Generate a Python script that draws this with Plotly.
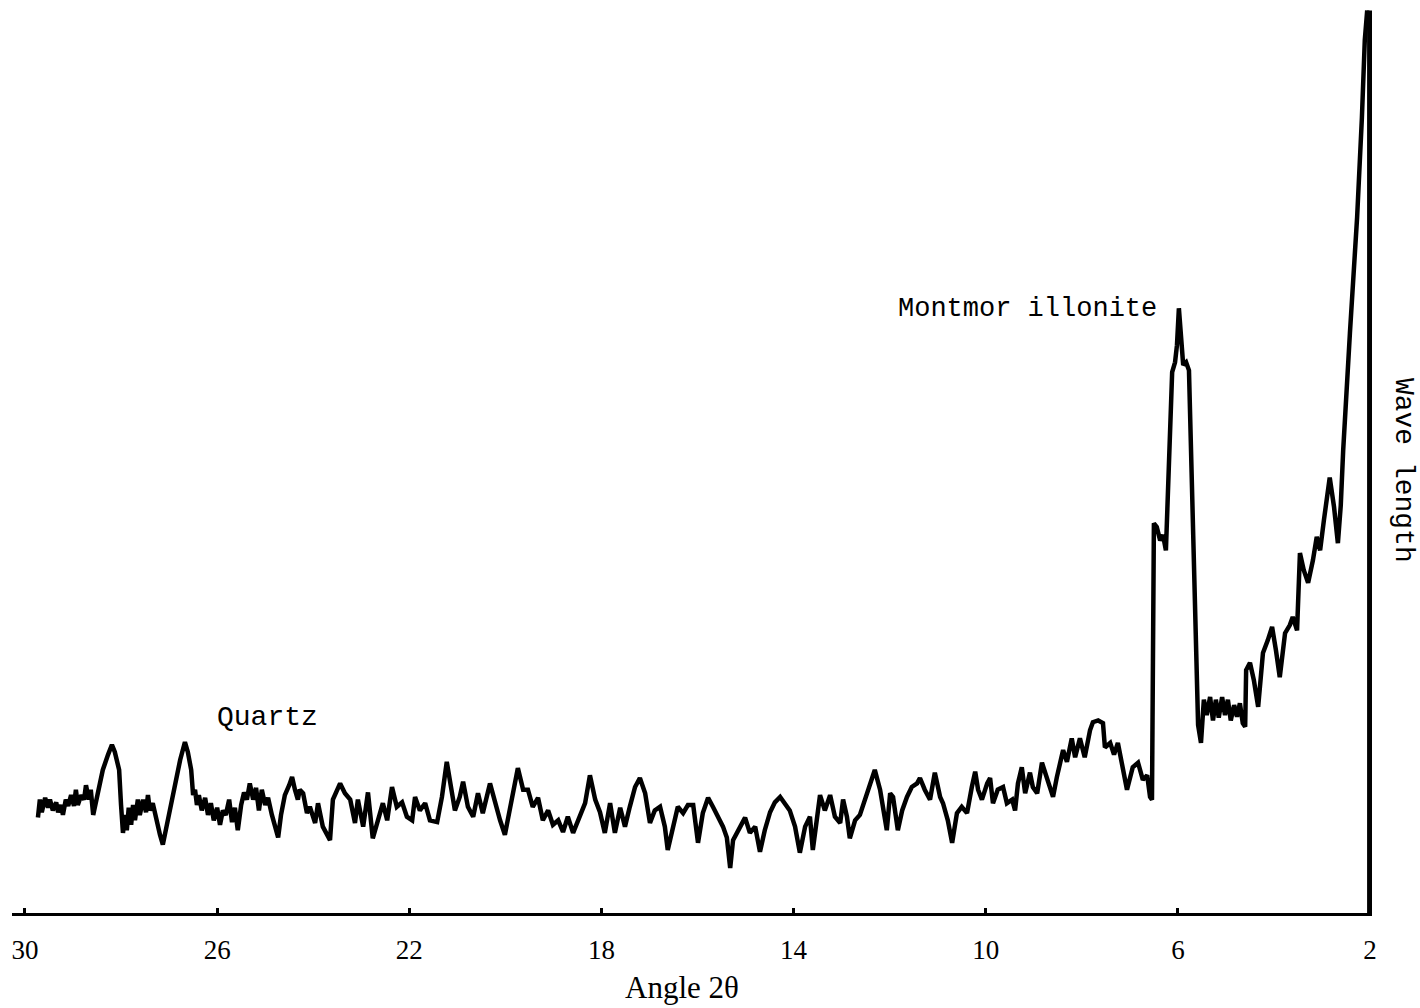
import plotly.graph_objects as go

# Angle 2-theta (degrees), left (30) to right (2)
two_theta = [
    29.73, 29.69, 29.65, 29.58, 29.52, 29.48, 29.42, 29.35, 29.31, 29.25, 29.21, 29.15, 29.10, 29.04,
    28.98, 28.94, 28.90, 28.83, 28.77, 28.73, 28.67, 28.63, 28.58, 28.48, 28.38, 28.27, 28.19, 28.13,
    28.09, 28.04, 28.00, 27.96, 27.92, 27.88, 27.84, 27.79, 27.75, 27.71, 27.65, 27.61, 27.54, 27.48,
    27.44, 27.40, 27.34, 27.25, 27.19, 27.13, 27.07, 26.98, 26.88, 26.77, 26.67, 26.61, 26.54, 26.50,
    26.46, 26.42, 26.38, 26.32, 26.25, 26.19, 26.13, 26.07, 26.00, 25.94, 25.88, 25.82, 25.75, 25.69,
    25.63, 25.57, 25.50, 25.44, 25.38, 25.32, 25.25, 25.19, 25.13, 25.07, 25.00, 24.94, 24.86, 24.78,
    24.73, 24.67, 24.59, 24.50, 24.44, 24.38, 24.32,
    24.28, 24.21, 24.13, 24.07, 23.96, 23.90, 23.80, 23.65, 23.59, 23.44, 23.34, 23.23, 23.13, 23.07,
    22.96, 22.86, 22.76, 22.65, 22.55, 22.46, 22.36, 22.26, 22.15, 22.05, 21.94, 21.88, 21.78, 21.67,
    21.57, 21.42, 21.32, 21.22, 21.11, 21.05, 20.95, 20.88, 20.78, 20.67, 20.57, 20.47, 20.32, 20.22,
    20.11, 20.01, 19.86, 19.74, 19.63, 19.53, 19.43, 19.32, 19.22, 19.11, 19.01, 18.90, 18.80, 18.70,
    18.59, 18.45, 18.34, 18.24, 18.13,
    18.03, 17.93, 17.82, 17.72, 17.61, 17.51, 17.41, 17.30, 17.20, 17.09, 16.99, 16.89, 16.78, 16.68,
    16.62, 16.51, 16.41, 16.30, 16.20, 16.09, 15.99, 15.89, 15.78, 15.68, 15.57, 15.47, 15.39, 15.32,
    15.26, 15.16, 15.01, 14.91, 14.80, 14.70, 14.60, 14.49, 14.39, 14.28, 14.18, 14.08, 13.97, 13.87,
    13.76, 13.66, 13.60, 13.51, 13.45, 13.35, 13.24, 13.14, 13.03, 12.97, 12.89, 12.83, 12.72, 12.62,
    12.51, 12.41, 12.31, 12.20,
    12.14, 12.06, 11.99, 11.93, 11.83, 11.74, 11.64, 11.54, 11.43, 11.37, 11.27, 11.16, 11.06, 10.95,
    10.89, 10.79, 10.70, 10.60, 10.50, 10.39, 10.29, 10.22, 10.16, 10.08, 9.97, 9.91, 9.85, 9.75,
    9.64, 9.56, 9.45, 9.39, 9.33, 9.25, 9.18, 9.08, 9.02, 8.93, 8.83, 8.73, 8.60, 8.52, 8.39, 8.31,
    8.21, 8.14, 8.04, 7.94, 7.83, 7.77, 7.66, 7.56, 7.52, 7.41, 7.33, 7.25, 7.14, 7.06, 6.94, 6.83,
    6.73, 6.64, 6.58, 6.54,
    6.50, 6.44, 6.37, 6.31, 6.25, 6.12, 6.06, 6.02, 5.98, 5.94, 5.89, 5.83, 5.77, 5.58, 5.52, 5.46,
    5.40, 5.33, 5.27, 5.21, 5.15, 5.08, 5.02, 4.96, 4.90, 4.83, 4.77, 4.71, 4.65, 4.60, 4.58, 4.50,
    4.42, 4.33, 4.23, 4.13, 4.04, 3.96, 3.88, 3.77, 3.67, 3.61, 3.52, 3.46, 3.38, 3.29, 3.19, 3.11,
    3.04, 2.96, 2.90, 2.84, 2.75, 2.67, 2.61, 2.56, 2.42, 2.27, 2.17, 2.11, 2.06,
]

# Relative intensity (arbitrary units)
intensity = [
    10.6, 12.6, 11.2, 12.8, 11.7, 12.6, 11.4, 12.3, 11.2, 12.0, 10.9, 12.6, 11.9, 13.1,
    11.9, 13.7, 12.0, 13.1, 12.6, 14.2, 12.6, 13.7, 10.9, 13.7, 15.9, 17.6, 18.7, 17.9,
    17.0, 15.9, 12.0, 8.9, 10.9, 9.2, 11.7, 9.8, 12.0, 10.3, 12.6, 10.9, 12.6, 11.2,
    13.1, 11.4, 12.2, 9.8, 8.7, 7.6, 9.2, 11.4, 14.2, 17.0, 19.0, 17.9, 15.9, 13.1,
    13.7, 12.0, 13.1, 11.4, 12.8, 10.9, 12.2, 10.3, 11.7, 9.8, 11.4, 10.9, 12.6, 10.1,
    11.7, 9.2, 12.0, 13.4, 12.6, 14.4, 12.6, 13.9, 11.4, 13.7, 12.0, 12.8, 10.9, 9.2,
    8.4, 10.9, 13.1, 14.2, 15.1, 13.7, 12.6,
    13.7, 13.3, 11.1, 11.8, 10.0, 12.2, 9.6, 8.1, 12.6, 14.4, 13.3, 12.6, 10.0, 12.6,
    9.6, 13.4, 8.3, 10.3, 12.2, 10.3, 14.0, 11.8, 12.3, 10.7, 10.3, 12.9, 11.4, 12.2,
    10.3, 10.1, 12.9, 16.8, 13.7, 11.4, 12.9, 14.6, 11.8, 10.7, 13.3, 11.1, 14.4, 12.2,
    10.3, 8.7, 12.9, 16.1, 13.7, 13.7, 11.8, 12.8, 10.3, 11.4, 9.8, 10.3, 9.0, 10.7,
    8.9, 10.7, 12.2, 15.3, 12.6,
    11.2, 8.9, 12.2, 8.9, 11.7, 9.6, 11.8, 14.0, 15.0, 13.3, 10.0, 11.4, 11.8, 9.6,
    7.0, 9.6, 11.8, 11.1, 12.0, 12.0, 7.8, 11.1, 12.8, 11.8, 10.7, 9.6, 8.4, 5.0,
    8.1, 9.2, 10.6, 8.9, 9.6, 6.8, 9.2, 11.2, 12.3, 12.9, 12.2, 11.4, 9.6, 6.7,
    9.6, 10.7, 7.0, 10.3, 13.1, 11.4, 13.1, 10.7, 10.0, 12.6, 10.7, 8.3, 10.3, 10.9,
    12.8, 14.4, 15.9, 13.7,
    11.8, 9.2, 13.3, 12.9, 9.2, 11.4, 12.9, 14.0, 14.4, 15.0, 13.7, 12.6, 15.6, 12.9,
    12.2, 10.3, 7.8, 11.1, 11.8, 11.1, 14.0, 15.7, 13.7, 12.6, 14.4, 15.0, 12.2, 13.7,
    14.0, 12.2, 12.6, 11.4, 14.4, 16.2, 13.3, 15.6, 14.0, 13.3, 16.7, 15.1, 12.9, 15.1, 18.1, 16.8,
    19.4, 17.3, 19.4, 17.3, 20.3, 21.2, 21.4, 21.1, 18.4, 18.9, 17.6, 18.9, 16.2, 13.7, 16.2, 16.7,
    14.8, 15.3, 12.9, 12.6,
    43.3, 42.9, 41.4, 42.0, 40.3, 60.1, 61.2, 63.1, 67.2, 63.7, 60.9, 61.2, 60.3, 20.9, 18.9, 23.7,
    22.0, 24.0, 21.4, 23.7, 21.7, 24.0, 22.0, 23.7, 21.4, 23.1, 21.8, 23.3, 21.1, 20.7, 27.0, 27.8,
    25.9, 22.9, 28.9, 30.3, 31.8, 29.2, 26.2, 31.1, 32.0, 32.9, 31.4, 40.0, 38.1, 36.7, 39.2, 41.8,
    40.3, 43.7, 46.2, 48.4, 45.1, 41.1, 45.3, 51.4, 64.4, 77.3, 88.4, 97.0, 100.3,
]

tick_values = [30, 26, 22, 18, 14, 10, 6, 2]
tick_labels = ["30", "26", "22", "18", "14", "10", "6", "2"]

peak_labels = ["Quartz", "Montmor illonite"]
peak_label_x = [24.96, 9.14]
peak_label_y = [21.7, 67.1]
peak_label_size = [28, 27]

wave_marker_x = 2.0
wave_marker_top = 100.3

MONO = "Liberation Mono, Courier New, monospace"
SERIF = "Liberation Serif, Times New Roman, serif"

fig = go.Figure()
fig.add_trace(go.Scatter(
    x=two_theta, y=intensity, mode="lines",
    line=dict(color="black", width=4.5, shape="linear"),
    hoverinfo="x+y", showlegend=False,
))

# vertical "wave length" marker at 2 degrees
fig.add_shape(type="line", xref="x", yref="y",
              x0=wave_marker_x, x1=wave_marker_x, y0=0, y1=wave_marker_top,
              line=dict(color="black", width=6))

for txt, px, py, sz in zip(peak_labels, peak_label_x, peak_label_y, peak_label_size):
    fig.add_annotation(x=px, y=py, xref="x", yref="y", text=txt, showarrow=False,
                       font=dict(family=MONO, size=sz, color="black"),
                       xanchor="center", yanchor="middle")

fig.add_annotation(x=0.493, y=-0.0815, xref="paper", yref="paper", text="Angle 2θ",
                   showarrow=False, font=dict(family=SERIF, size=31, color="black"),
                   xanchor="center", yanchor="middle")
fig.add_annotation(x=1.0228, y=0.488, xref="paper", yref="paper", text="Wave length",
                   showarrow=False, textangle=90,
                   font=dict(family=MONO, size=28, color="black"),
                   xanchor="center", yanchor="middle")

fig.update_layout(
    width=1420, height=1008,
    margin=dict(l=12, r=48, t=5, b=95),
    paper_bgcolor="white", plot_bgcolor="white",
    xaxis=dict(range=[30.27, 1.96], tickvals=tick_values, ticktext=tick_labels,
               showgrid=False, zeroline=False, showline=True, linecolor="black", linewidth=3,
               ticks="inside", ticklen=5, tickwidth=3, tickcolor="black",
               ticklabelstandoff=11,
               tickfont=dict(family=SERIF, size=27, color="black")),
    yaxis=dict(range=[0, 100.9], showgrid=False, zeroline=False, showline=False,
               showticklabels=False, ticks=""),
)

fig.write_html("out.html")
